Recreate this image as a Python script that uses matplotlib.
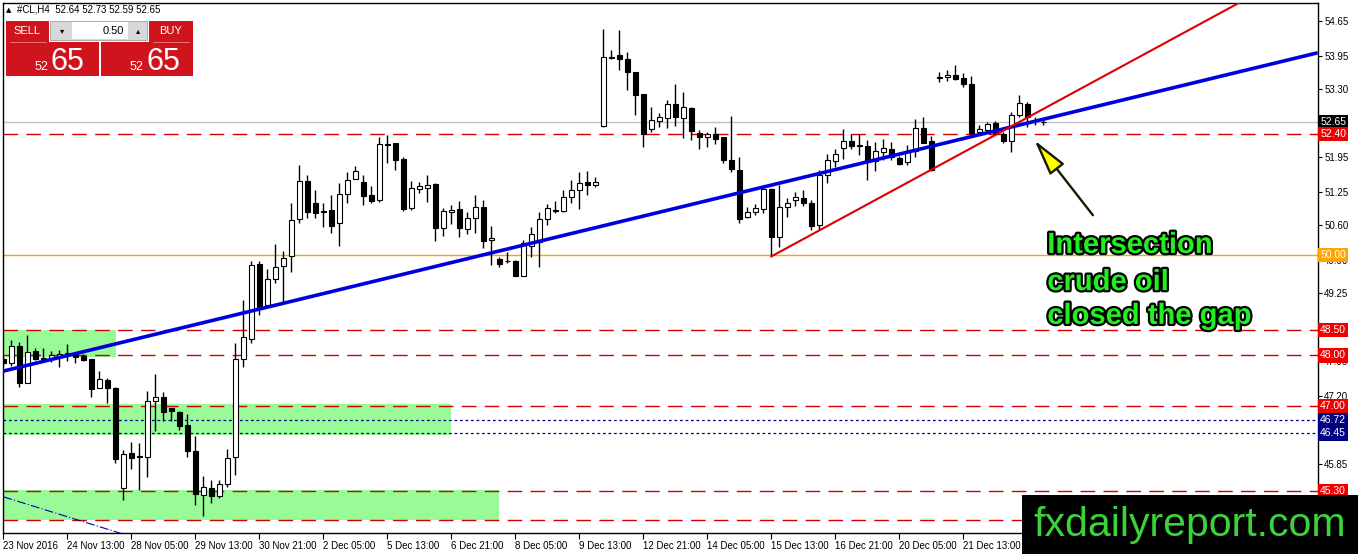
import numpy as np
import matplotlib.pyplot as plt
import matplotlib.patheffects as pe
from matplotlib.patches import Rectangle

# #CL H4 bars, 23 Nov - 21 Dec 2016
opens = [47.93, 47.86, 48.19, 47.46, 48.09, 47.96, 47.96, 47.99, 48.02, 48.02,
         47.99, 47.93, 47.35, 47.52, 47.35, 45.37, 46.06, 46.00, 45.99, 47.09,
         47.18, 46.95, 46.87, 46.61, 46.10, 45.23, 45.37, 45.20, 45.45, 45.98,
         47.94, 48.33, 49.82, 49.01, 49.52, 49.77, 49.97, 50.71, 51.47, 51.03,
         50.87, 50.89, 50.63, 51.21, 51.51, 51.45, 51.19, 51.09, 52.21, 52.22,
         51.90, 50.94, 51.32, 51.34, 51.41, 50.54, 50.85, 50.91, 50.51, 50.73,
         50.95, 50.29, 49.92, 49.88, 49.88, 49.59, 50.18, 50.25, 50.71, 50.89,
         50.88, 51.15, 51.29, 51.45, 51.39, 52.56, 53.94, 53.98, 53.90, 53.64,
         53.20, 52.50, 52.67, 52.72, 53.00, 52.73, 52.92, 52.42, 52.34, 52.40,
         52.35, 51.89, 51.69, 50.75, 50.86, 50.92, 51.31, 50.36, 50.95, 51.09,
         51.13, 51.03, 50.60, 51.59, 51.86, 52.13, 52.27, 52.18, 52.17, 51.86,
         52.05, 52.10, 51.93, 51.84, 52.07, 52.52, 52.27, 53.52, 53.53, 53.58,
         53.51, 53.40, 52.45, 52.49, 52.63, 52.40, 52.27, 52.78, 53.00, 52.68,
         52.64]
highs = [47.99, 48.30, 48.26, 48.41, 48.14, 48.14, 48.09, 48.11, 48.23, 48.06,
         48.02, 47.93, 47.69, 47.55, 47.38, 46.12, 46.28, 46.26, 47.30, 47.63,
         47.28, 46.95, 46.90, 46.84, 46.40, 45.60, 45.53, 45.52, 46.15, 48.25,
         49.11, 49.87, 49.87, 49.72, 50.22, 50.07, 51.03, 51.79, 51.59, 51.30,
         51.03, 51.19, 51.43, 51.65, 51.77, 51.59, 51.38, 52.34, 52.39, 52.22,
         51.95, 51.48, 51.46, 51.59, 51.44, 50.94, 51.00, 51.07, 50.85, 51.19,
         51.09, 50.58, 49.96, 50.05, 49.90, 50.30, 50.56, 50.86, 51.01, 51.08,
         51.30, 51.49, 51.64, 51.66, 51.55, 54.49, 54.08, 54.47, 54.03, 53.64,
         53.20, 52.94, 52.83, 53.08, 53.40, 53.25, 52.94, 52.49, 52.45, 52.55,
         52.35, 52.76, 51.95, 50.95, 51.02, 51.36, 51.33, 51.39, 51.13, 51.25,
         51.29, 51.09, 51.69, 52.00, 52.11, 52.50, 52.41, 52.41, 52.29, 52.25,
         52.30, 52.25, 51.96, 52.19, 52.70, 52.74, 52.36, 53.64, 53.67, 53.78,
         53.61, 53.55, 52.58, 52.65, 52.66, 52.45, 52.85, 53.18, 53.05, 52.75,
         52.73]
lows = [47.79, 47.79, 47.38, 47.45, 47.91, 47.88, 47.87, 47.78, 47.90, 47.85,
        47.89, 47.18, 47.35, 47.06, 45.86, 45.12, 45.75, 45.33, 45.59, 46.49,
        46.69, 46.69, 46.52, 45.99, 45.02, 44.80, 45.07, 45.17, 45.38, 45.63,
        47.78, 48.25, 48.81, 48.97, 49.45, 49.07, 49.67, 50.63, 50.74, 50.74,
        50.55, 50.43, 50.17, 51.04, 51.51, 51.00, 51.04, 51.06, 51.82, 51.68,
        50.88, 50.90, 51.23, 51.06, 50.27, 50.37, 50.62, 50.35, 50.42, 50.44,
        50.13, 49.80, 49.76, 49.83, 49.59, 49.59, 49.95, 49.76, 50.60, 50.83,
        50.85, 51.04, 50.92, 51.19, 51.35, 52.54, 53.89, 53.68, 53.28, 52.78,
        52.15, 52.45, 52.54, 52.52, 52.56, 52.32, 52.29, 52.10, 52.15, 52.20,
        51.82, 51.64, 50.64, 50.74, 50.79, 50.83, 49.97, 50.16, 50.76, 50.98,
        50.97, 50.50, 50.50, 51.43, 51.74, 51.91, 52.10, 51.99, 51.49, 51.66,
        51.88, 51.89, 51.78, 51.78, 51.95, 52.22, 51.67, 53.43, 53.45, 53.48,
        53.34, 52.39, 52.39, 52.42, 52.40, 52.23, 52.05, 52.75, 52.55, 52.58,
        52.59]
closes = [47.86, 48.18, 47.46, 48.07, 47.93, 47.93, 48.01, 48.03, 48.04, 47.98,
          47.91, 47.33, 47.53, 47.36, 45.94, 46.04, 45.96, 45.98, 47.10, 47.17,
          46.87, 46.89, 46.59, 46.10, 45.25, 45.38, 45.20, 45.45, 45.96, 47.93,
          48.36, 49.80, 48.97, 49.52, 49.76, 49.94, 50.70, 51.47, 50.86, 50.84,
          50.85, 50.58, 51.21, 51.49, 51.67, 51.17, 51.07, 52.21, 52.19, 51.88,
          50.92, 51.33, 51.37, 51.39, 50.54, 50.88, 50.89, 50.53, 50.73, 50.95,
          50.27, 50.33, 49.81, 49.87, 49.59, 50.24, 50.41, 50.71, 50.93, 50.88,
          51.15, 51.29, 51.43, 51.39, 51.45, 53.93, 53.92, 53.89, 53.64, 53.18,
          52.41, 52.68, 52.74, 53.00, 52.75, 52.94, 52.47, 52.34, 52.40, 52.31,
          51.88, 51.70, 50.72, 50.86, 50.93, 51.31, 50.36, 50.95, 51.04, 51.15,
          51.03, 50.58, 51.59, 51.89, 52.01, 52.27, 52.17, 52.16, 51.86, 52.07,
          52.12, 51.94, 51.81, 52.07, 52.52, 52.23, 51.68, 53.53, 53.58, 53.50,
          53.40, 52.43, 52.50, 52.60, 52.43, 52.27, 52.78, 53.02, 52.74, 52.66,
          52.65]

date_labels = ["23 Nov 2016", "24 Nov 13:00", "28 Nov 05:00", "29 Nov 13:00",
               "30 Nov 21:00", "2 Dec 05:00", "5 Dec 13:00", "6 Dec 21:00",
               "8 Dec 05:00", "9 Dec 13:00", "12 Dec 21:00", "14 Dec 05:00",
               "15 Dec 13:00", "16 Dec 21:00", "20 Dec 05:00", "21 Dec 13:00"]
label_step = 8

price_ticks = [54.65, 53.95, 53.30, 52.65, 51.95, 51.25, 50.60, 49.90, 49.25,
               48.55, 47.90, 47.20, 46.55, 45.85, 45.20]
hidden_ticks = [52.65, 48.55, 46.55, 45.20]   # covered by price boxes

# horizontal levels
red_levels = [52.40, 48.50, 48.00, 47.00, 45.30, 44.73]
dotted_levels = [46.72, 46.45]
round_level = 50.00
last_price = 52.65

# green zones: (top, bottom, last bar covered)
zones = [(48.50, 47.97, 14.1), (47.04, 46.42, 56.0), (45.33, 44.73, 61.9)]

# trend lines as (bar, price) pairs
blue_trend = [(0, 47.69), (164.3, 54.02)]
red_trend = [(96, 49.97), (160, 55.49)]
thin_trend = [(0, 45.19), (20, 44.20)]

W, H = 1358, 554
fig = plt.figure(figsize=(W / 100, H / 100), dpi=100)
ax = fig.add_axes([3 / W, 21 / H, 1315 / W, 530 / H])
ax.set_xlim(-0.04, 164.34)
ax.set_ylim(44.47, 55.01)

# zones
for top, bot, x_end in zones:
    ax.add_patch(Rectangle((-1, bot), x_end + 1, top - bot, facecolor='#98fb98',
                           edgecolor='none', zorder=0.5))

# level lines
for lv in red_levels:
    ax.axhline(lv, color='#d40000', lw=1.0, dashes=(10.5, 6), zorder=1)
for lv in dotted_levels:
    ax.axhline(lv, color='#000080', lw=0.9, dashes=(2.2, 2.2), zorder=1)
ax.axhline(round_level, color='#f0a800', lw=1.0, zorder=1)
ax.axhline(last_price, color='#c0c0c0', lw=1.0, zorder=1)

# candles
o, hi, lo, c = map(np.array, (opens, highs, lows, closes))
idx = np.arange(len(o))
up = c >= o
ax.vlines(idx, lo, hi, color='black', lw=1.0, zorder=2.5)
body_lo = np.minimum(o, c)
body_h = np.maximum(np.abs(c - o), 0.012)
ax.bar(idx[up], body_h[up], bottom=body_lo[up], width=0.62, facecolor='white',
       edgecolor='black', lw=0.8, zorder=3)
ax.bar(idx[~up], body_h[~up], bottom=body_lo[~up], width=0.62, facecolor='black',
       edgecolor='black', lw=0.8, zorder=3)

# trend lines
(bx0, by0), (bx1, by1) = blue_trend
ax.plot([bx0, bx1], [by0, by1], color='#0000dd', lw=2.6, zorder=4,
        solid_capstyle='butt')
(rx0, ry0), (rx1, ry1) = red_trend
ax.plot([rx0, rx1], [ry0, ry1], color='#dd0000', lw=1.5, zorder=4)
(tx0, ty0), (tx1, ty1) = thin_trend
ax.plot([tx0, tx1], [ty0, ty1], color='#0000aa', lw=0.8, dashes=(8, 2, 1, 2), zorder=4)

# axis styling (MetaTrader look)
for s in ax.spines.values():
    s.set_color('black')
    s.set_linewidth(1.0)
ax.yaxis.tick_right()
ax.set_yticks(price_ticks)
ax.set_yticklabels(['' if t in hidden_ticks else f"{t:.2f}" for t in price_ticks])
ax.tick_params(axis='y', direction='out', length=3, width=0.8, pad=1.5,
               labelsize=7, labelcolor='black')
xt = np.arange(len(date_labels)) * label_step
ax.set_xticks(xt)
ax.set_xticklabels(date_labels, ha='left')
ax.tick_params(axis='x', direction='out', length=4, width=0.8, pad=2,
               labelsize=7)
for t in ax.get_xticklabels() + ax.get_yticklabels():
    t.set_fontfamily(['Liberation Sans', 'DejaVu Sans'])

# price boxes on the right scale
boxes = [(52.65, 'black'), (52.40, '#ee0000'), (50.00, '#ffa500'),
         (48.50, '#ee0000'), (48.00, '#ee0000'), (47.00, '#ee0000'),
         (46.72, '#000080'), (46.45, '#000080'), (45.30, '#ee0000')]
for val, col in boxes:
    ax.annotate(f"{val:.2f}", xy=(1.0017, val), xycoords=('axes fraction', 'data'),
                ha='left', va='center', fontsize=7.5, color='white',
                family=['Liberation Sans', 'DejaVu Sans'], annotation_clip=False,
                bbox=dict(boxstyle='square,pad=0.2', fc=col, ec='none'), zorder=6)

# annotation
ax.annotate('', xy=(128.9, 52.28), xytext=(136.2, 50.79),
            arrowprops=dict(arrowstyle='-|>,head_length=1.6,head_width=0.4',
                            fc='#ffff00', ec='#1a1a00', lw=1.7, shrinkA=0, shrinkB=0,
                            mutation_scale=14), zorder=7)
stroke = [pe.Stroke(linewidth=3.2, foreground='black'), pe.Normal()]
for line, yb in zip(["Intersection", "crude oil", "closed the gap"], [50.04, 49.30, 48.63]):
    ax.text(130.5, yb, line, fontsize=21, fontweight='bold', color='#22ee22',
            family=['Liberation Sans Narrow', 'Liberation Sans', 'DejaVu Sans'],
            va='baseline', ha='left', path_effects=stroke, zorder=8)

# overlay in pixel space: header, trade panel, watermark
ov = fig.add_axes([0, 0, 1, 1], zorder=10)
ov.set_xlim(0, W)
ov.set_ylim(H, 0)
ov.axis('off')
ov.patch.set_alpha(0)
ov.text(6, 10, "\u25b2", fontsize=5, va='center', ha='left')
ov.text(17, 10, "#CL,H4  52.64 52.73 52.59 52.65", fontsize=7, va='center',
        ha='left', family=['Liberation Sans', 'DejaVu Sans'])

red = '#d0141e'
for x0, w in [(6, 43), (149, 44)]:
    ov.add_patch(Rectangle((x0, 21), w, 21, fc=red, ec='none'))
ov.add_patch(Rectangle((6, 42), 93, 34, fc=red, ec='none'))
ov.add_patch(Rectangle((101, 42), 92, 34, fc=red, ec='none'))
ov.plot([10, 46], [41.5, 41.5], color='#f08080', lw=0.6)
ov.plot([153, 189], [41.5, 41.5], color='#f08080', lw=0.6)
ov.add_patch(Rectangle((50, 21), 97, 19, fc='#d8d8d8', ec='#a0a0a0', lw=0.6))
ov.add_patch(Rectangle((72, 22), 56, 17, fc='white', ec='none'))
ov.text(62, 30.5, "\u25be", fontsize=6, ha='center', va='center')
ov.text(138, 30.5, "\u25b4", fontsize=6, ha='center', va='center')
ov.text(124, 30.5, "0.50", fontsize=8, ha='right', va='center',
        family=['Liberation Sans', 'DejaVu Sans'])
ov.text(27, 30.5, "SELL", fontsize=8, ha='center', va='center', color='white',
        family=['Liberation Sans', 'DejaVu Sans'])
ov.text(171, 30.5, "BUY", fontsize=8, ha='center', va='center', color='white',
        family=['Liberation Sans', 'DejaVu Sans'])
for xs, xb in [(48, 51), (143, 146)]:
    ov.text(xs, 70, "52", fontsize=9, ha='right', va='baseline', color='white',
            family=['Liberation Sans', 'DejaVu Sans'])
    ov.text(xb, 70, "65", fontsize=22, ha='left', va='baseline', color='white',
            family=['Liberation Sans', 'DejaVu Sans'])

ov.add_patch(Rectangle((1022, 495), W - 1022, H - 495, fc='black', ec='none'))
ov.text(1190, 536, "fxdailyreport.com", fontsize=29.5, color='#3ad43a',
        ha='center', va='baseline', family=['Liberation Sans Narrow', 'Liberation Sans', 'DejaVu Sans'])

fig.savefig('out.png', dpi=100, facecolor='white')
